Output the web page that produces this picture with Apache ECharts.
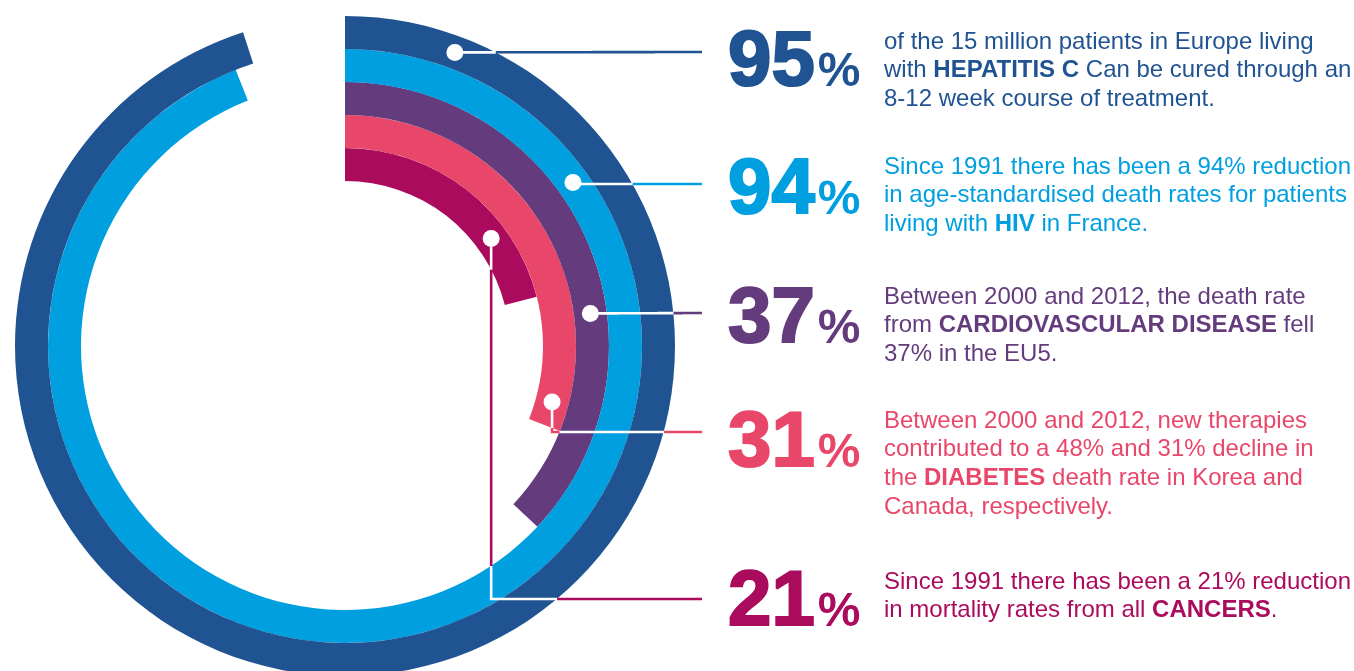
<!DOCTYPE html>
<html>
<head>
<meta charset="utf-8">
<script src="https://cdn.jsdelivr.net/npm/echarts@6/dist/echarts.min.js"></script>
<style>
html,body{margin:0;padding:0;background:#fff;}
#chart{width:1354px;height:671px;}
</style>
</head>
<body>
<div id="chart"></div>
<script>
// ---- data (ordered from inner ring to outer ring) ----
const categories = ['Cancers', 'Diabetes', 'Cardiovascular disease', 'HIV', 'Hepatitis C'];
const values = [21, 31, 37, 94, 95];
const bigLabels = ['21', '31', '37', '94', '95'];
const dotAt = [14.9, 29.2, 22.9, 15.1, 5.7];
const descriptions = [
  ['Since 1991 there has been a 21% reduction', 'in mortality rates from all {b|CANCERS}.'],
  ['Between 2000 and 2012, new therapies', 'contributed to a 48% and 31% decline in', 'the {b|DIABETES} death rate in Korea and', 'Canada, respectively.'],
  ['Between 2000 and 2012, the death rate', 'from {b|CARDIOVASCULAR DISEASE} fell', '37% in the EU5.'],
  ['Since 1991 there has been a 94% reduction', 'in age-standardised death rates for patients', 'living with {b|HIV} in France.'],
  ['of the 15 million patients in Europe living', 'with {b|HEPATITIS C} Can be cured through an', '8-12 week course of treatment.']
];
const colors = ['#AB0B5D', '#E9476A', '#643C7E', '#009FE0', '#1F5392'];

// ---- layout ----
const CX = 345, CY = 346, R0 = 165, R1 = 330;
const BW = (R1 - R0) / categories.length;
const numBaseline = [627, 468, 344, 215, 87];
const leaderY = [599, 432, 313, 184, 52];
const descFirstCenter = [582, 421, 297, 167, 42];
const LINE_END_X = 702, NUM_X = 728, DESC_X = 884, LH = 28.7;
const NUM_SIZE = 78, PCT_SIZE = 48;
const FONT = '"Liberation Sans", Arial, sans-serif';

const chart = echarts.init(document.getElementById('chart'), null, {renderer: 'canvas'});

const option = {
  backgroundColor: '#ffffff',
  animation: false,
  polar: {center: [CX, CY], radius: [R0, R1]},
  angleAxis: {
    type: 'value', min: 0, max: 100, startAngle: 90, clockwise: true,
    axisLine: {show: false}, axisTick: {show: false}, axisLabel: {show: false}, splitLine: {show: false}
  },
  radiusAxis: {
    type: 'category', data: categories,
    axisLine: {show: false}, axisTick: {show: false}, axisLabel: {show: false}, splitLine: {show: false}
  },
  series: [
    {
      type: 'bar', coordinateSystem: 'polar', barCategoryGap: '0%',
      data: values.map((v, i) => ({value: v, itemStyle: {color: colors[i]}})),
      z: 2
    },
    {
      type: 'scatter', coordinateSystem: 'polar', symbol: 'circle', symbolSize: 17,
      itemStyle: {color: '#ffffff', opacity: 1},
      data: dotAt.map((a, i) => [i, a]),
      z: 30
    }
  ]
};
chart.setOption(option);

// ---- leader lines: white over bars, coloured over the background ----
function insideBar(x, y) {
  const dx = x - CX, dy = y - CY;
  const r = Math.hypot(dx, dy);
  const k = Math.floor((r - R0) / BW);
  if (k < 0 || k >= values.length) return false;
  let a = Math.atan2(dx, -dy) * 180 / Math.PI;
  if (a < 0) a += 360;
  return a / 3.6 <= values[k];
}

const graphics = [];
const measure = document.createElement('canvas').getContext('2d');

for (let i = 0; i < values.length; i++) {
  const p = chart.convertToPixel({seriesIndex: 1}, [i, dotAt[i]]);
  const pts = [[p[0], p[1]]];
  if (Math.abs(p[1] - leaderY[i]) > 1) pts.push([p[0], leaderY[i]]);
  pts.push([LINE_END_X, leaderY[i]]);
  const samples = [];
  for (let s = 0; s < pts.length - 1; s++) {
    const [x0, y0] = pts[s], [x1, y1] = pts[s + 1];
    const len = Math.hypot(x1 - x0, y1 - y0);
    const n = Math.max(1, Math.ceil(len / 0.5));
    for (let t = 0; t <= n; t++) {
      if (s > 0 && t === 0) continue;
      samples.push([x0 + (x1 - x0) * t / n, y0 + (y1 - y0) * t / n]);
    }
  }
  let run = [samples[0]], state = insideBar(samples[0][0], samples[0][1]);
  const flush = () => {
    if (run.length > 1) {
      graphics.push({
        type: 'polyline', z: 25, silent: true,
        shape: {points: run.slice()},
        style: {stroke: state ? '#ffffff' : colors[i], lineWidth: 2.6, fill: null, lineCap: 'butt', lineJoin: 'miter'}
      });
    }
  };
  for (let j = 1; j < samples.length; j++) {
    const st = insideBar(samples[j][0], samples[j][1]);
    run.push(samples[j]);
    if (st !== state) {
      flush();
      run = [samples[j]];
      state = st;
    }
  }
  flush();

  // big number + % (thin same-colour stroke to get a heavier weight)
  const numFont = 'bold ' + NUM_SIZE + 'px ' + FONT;
  measure.font = numFont;
  const w = measure.measureText(bigLabels[i]).width;
  graphics.push({
    type: 'text', z: 10, x: NUM_X, y: numBaseline[i] + 0.212 * NUM_SIZE - 1,
    style: {text: bigLabels[i], fill: colors[i], stroke: colors[i], lineWidth: 2.2, lineJoin: 'round',
      font: numFont, align: 'left', verticalAlign: 'bottom'}
  });
  graphics.push({
    type: 'text', z: 10, x: NUM_X + w + 3, y: numBaseline[i] + 0.212 * PCT_SIZE,
    style: {text: '%', fill: colors[i], font: 'bold ' + PCT_SIZE + 'px ' + FONT, align: 'left', verticalAlign: 'bottom'}
  });

  // description
  graphics.push({
    type: 'text', z: 10, x: DESC_X, y: descFirstCenter[i] - LH / 2,
    style: {
      text: descriptions[i].join('\n'), fill: colors[i], font: '24px ' + FONT,
      lineHeight: LH, align: 'left', verticalAlign: 'top',
      rich: {b: {font: 'bold 24px ' + FONT, fill: colors[i], lineHeight: LH}}
    }
  });
}

chart.setOption({graphic: {elements: graphics}});
</script>
</body>
</html>
